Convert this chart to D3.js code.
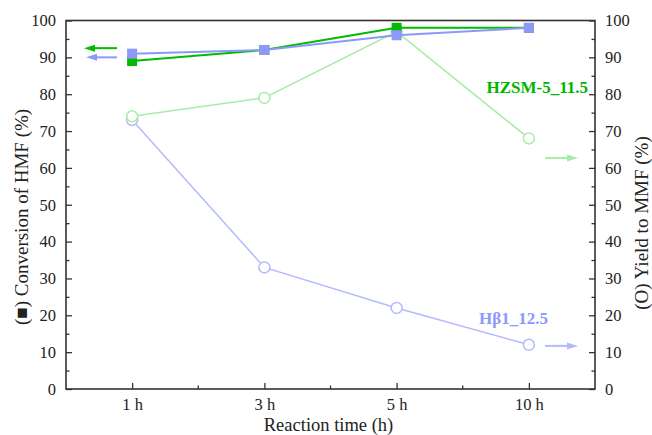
<!DOCTYPE html>
<html><head><meta charset="utf-8">
<script src="https://cdn.jsdelivr.net/npm/d3@7"></script>
<style>body{margin:0;background:#fff}svg{display:block}text{font-family:"Liberation Serif","Times New Roman",serif !important}</style>
</head><body><svg id="c" width="652" height="435"></svg>
<script>
const categories = ["1 h","3 h","5 h","10 h"];
const hzsmConversion = [89, 92, 98, 98];
const hbetaConversion = [91, 92, 96, 98];
const hzsmYield = [74, 79, 97, 68];
const hbetaYield = [73, 33, 22, 12];
const yTicks = [0,10,20,30,40,50,60,70,80,90,100];

const svg = d3.select("#c");
const L = 66, R = 595, T = 20.5, B = 389;
const x = d3.scalePoint().domain(categories).range([L, R]).padding(0.5);
const y = d3.scaleLinear().domain([0, 100]).range([B, T]);

const cGreen = "#00bb00", cBlue = "#8c98fa", cLGreen = "#a6eca6", cLBlue = "#b3bbfc";

const axisColor = "#333";
const gL = svg.append("g").attr("transform", `translate(${L},0)`)
  .call(d3.axisLeft(y).tickValues(yTicks).tickSize(-6).tickPadding(10));
const gLm = svg.append("g").attr("transform", `translate(${L},0)`)
  .call(d3.axisLeft(y).tickValues(d3.range(5,100,10)).tickSize(-3.5).tickFormat(""));
const gR = svg.append("g").attr("transform", `translate(${R},0)`)
  .call(d3.axisRight(y).tickValues(yTicks).tickSize(-6).tickPadding(10));
const gRm = svg.append("g").attr("transform", `translate(${R},0)`)
  .call(d3.axisRight(y).tickValues(d3.range(5,100,10)).tickSize(-3.5).tickFormat(""));
const gB = svg.append("g").attr("transform", `translate(0,${B})`)
  .call(d3.axisBottom(x).tickSize(-6).tickPadding(9));
const mids = categories.slice(0,-1).map((c,i)=>(x(c)+x(categories[i+1]))/2);
svg.append("g").selectAll("line").data(mids).join("line")
  .attr("x1",d=>d).attr("x2",d=>d).attr("y1",B).attr("y2",B-3.5)
  .attr("stroke",axisColor).attr("stroke-width",1.3);
[gL,gLm,gR,gRm,gB].forEach(g=>{
  g.attr("font-family",'"Liberation Serif",serif').attr("font-size",16.5);
  g.select(".domain").remove();
  g.selectAll("line").attr("stroke",axisColor).attr("stroke-width",1.3);
  g.selectAll("text").attr("fill","#222");
});
svg.append("rect").attr("x",L).attr("y",T).attr("width",R-L).attr("height",B-T)
  .attr("fill","none").attr("stroke",axisColor).attr("stroke-width",1.6);

const line = d3.line().x((d,i)=>x(categories[i])).y(d=>y(d));

function drawLine(vals,color,w){
  svg.append("path").datum(vals).attr("d",line).attr("fill","none")
    .attr("stroke",color).attr("stroke-width",w);
}
function drawCircles(vals,color){
  svg.append("g").selectAll("circle").data(vals).join("circle")
    .attr("cx",(d,i)=>x(categories[i])).attr("cy",d=>y(d)).attr("r",5.5)
    .attr("fill","#fff").attr("stroke",color).attr("stroke-width",1.5);
}
function drawSquares(vals,color){
  svg.append("g").selectAll("rect").data(vals).join("rect")
    .attr("x",(d,i)=>x(categories[i])-5).attr("y",d=>y(d)-5)
    .attr("width",10).attr("height",10).attr("fill",color);
}
drawLine(hbetaYield,cLBlue,1.5);
drawLine(hzsmYield,cLGreen,1.5);
drawCircles(hbetaYield,cLBlue);
drawCircles(hzsmYield,cLGreen);
drawLine(hzsmConversion,cGreen,2);
drawSquares(hzsmConversion,cGreen);
drawLine(hbetaConversion,cBlue,2);
drawSquares(hbetaConversion,cBlue);

function arrow(x1,x2,yy,color){
  const dir = Math.sign(x2-x1);
  svg.append("line").attr("x1",x1).attr("x2",x2-dir*8).attr("y1",yy).attr("y2",yy)
    .attr("stroke",color).attr("stroke-width",2);
  svg.append("path").attr("d",`M${x2},${yy} L${x2-dir*11},${yy-3.5} L${x2-dir*11},${yy+3.5} Z`).attr("fill",color);
}
arrow(117, 84, y(92.5), cGreen);
arrow(117, 86, y(90), cBlue);
arrow(545, 578, y(62.7), cLGreen);
arrow(545, 578, y(11.7), cLBlue);

svg.append("text").attr("x",588).attr("y",y(80.2)).attr("text-anchor","end")
  .attr("font-size",17).attr("font-weight","bold").attr("fill","#00b400").text("HZSM-5_11.5");
svg.append("text").attr("x",548).attr("y",y(17.6)).attr("text-anchor","end")
  .attr("font-size",17).attr("font-weight","bold").attr("fill",cBlue).text("Hβ1_12.5");

svg.append("text").attr("transform",`translate(28,217) rotate(-90)`)
  .attr("text-anchor","middle").attr("font-size",19).attr("fill","#222")
  .text("(■) Conversion of HMF (%)");
svg.append("text").attr("transform",`translate(648,223) rotate(-90)`)
  .attr("text-anchor","middle").attr("font-size",19).attr("fill","#222")
  .text("(O) Yield to MMF (%)");
svg.append("text").attr("x",(L+R)/2-2).attr("y",431).attr("text-anchor","middle")
  .attr("font-size",18.5).attr("fill","#222").text("Reaction time (h)");
</script></body></html>
